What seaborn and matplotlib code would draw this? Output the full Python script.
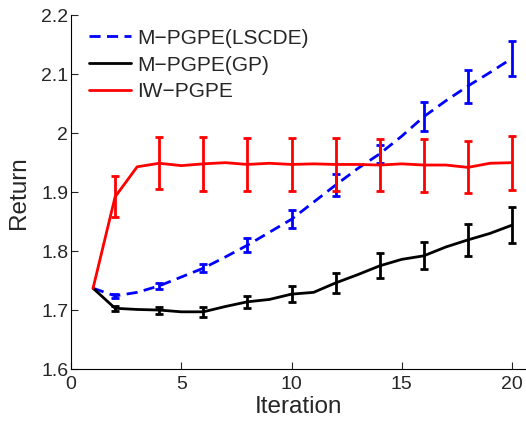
import numpy as np
import pandas as pd
import matplotlib
matplotlib.use("Agg")
import matplotlib.pyplot as plt
import seaborn as sns

iterations = list(range(1, 21))
lscde = [1.737, 1.724, 1.730, 1.741, 1.756, 1.771, 1.790, 1.810, 1.832, 1.854,
         1.883, 1.912, 1.940, 1.965, 1.995, 2.028, 2.055, 2.080, 2.103, 2.127]
gp = [1.737, 1.703, 1.701, 1.700, 1.697, 1.697, 1.706, 1.714, 1.718, 1.727,
      1.730, 1.746, 1.760, 1.775, 1.786, 1.792, 1.807, 1.819, 1.830, 1.844]
iw = [1.737, 1.892, 1.943, 1.949, 1.945, 1.948, 1.950, 1.947, 1.949, 1.947,
      1.948, 1.947, 1.947, 1.946, 1.948, 1.946, 1.946, 1.942, 1.949, 1.950]

err_x = [2, 4, 6, 8, 10, 12, 14, 16, 18, 20]
lscde_err = [0.003, 0.005, 0.007, 0.012, 0.015, 0.018, 0.015, 0.025, 0.028, 0.030]
gp_err = [0.004, 0.006, 0.008, 0.010, 0.014, 0.017, 0.021, 0.023, 0.027, 0.030]
iw_err = [0.035, 0.044, 0.046, 0.045, 0.045, 0.045, 0.044, 0.045, 0.044, 0.046]

names = ["M\u2212PGPE(LSCDE)", "M\u2212PGPE(GP)", "IW\u2212PGPE"]
colors = ["#0000ff", "#000000", "#ff0000"]

sns.set_style("white")
plt.rcParams['font.family'] = ['Liberation Sans', 'DejaVu Sans']

fig = plt.figure(figsize=(5.26, 4.21), dpi=100)
ax = fig.add_axes([71/526, 1-369/421, 1-71/526, (369-15.3)/421])

series = [lscde, gp, iw]
errs = [lscde_err, gp_err, iw_err]
styles = [(0, (4.0, 2.3)), '-', '-']
for name, vals, e, c, ls in zip(names, series, errs, colors, styles):
    df = pd.DataFrame({"Iteration": iterations, "Return": vals})
    sns.lineplot(data=df, x="Iteration", y="Return", ax=ax, color=c,
                 linewidth=2.0, linestyle=ls, label=name)
    ev = [vals[iterations.index(x)] for x in err_x]
    ax.errorbar(err_x, ev, yerr=e, fmt='none', ecolor=c, elinewidth=2.0,
                capsize=3, capthick=2.0)

ax.set_xlim(0, 455/22.05)
ax.set_ylim(1.6, 2.2)
ax.set_xticks([0, 5, 10, 15, 20])
ax.set_yticks([1.6, 1.7, 1.8, 1.9, 2.0, 2.1, 2.2])
ax.set_yticklabels(["1.6", "1.7", "1.8", "1.9", "2", "2.1", "2.2"])
ax.tick_params(direction='in', length=5, width=0.8, labelsize=14,
               left=True, bottom=True)
ax.tick_params(axis='y', pad=2)
ax.tick_params(axis='x', pad=5)
ax.set_xlabel("Iteration", fontsize=17.5, labelpad=2)
ax.set_ylabel("Return", fontsize=17.5, labelpad=8)
for s in ["top", "right"]:
    ax.spines[s].set_visible(False)
for s in ["left", "bottom"]:
    ax.spines[s].set_color("black")
    ax.spines[s].set_linewidth(0.8)

leg = ax.legend(loc="upper left", frameon=False, fontsize=15,
                handlelength=2.0, handletextpad=0.3, labelspacing=0.38,
                borderaxespad=0.0, bbox_to_anchor=(0.021, 0.986))

fig.savefig("out.png", dpi=100)
